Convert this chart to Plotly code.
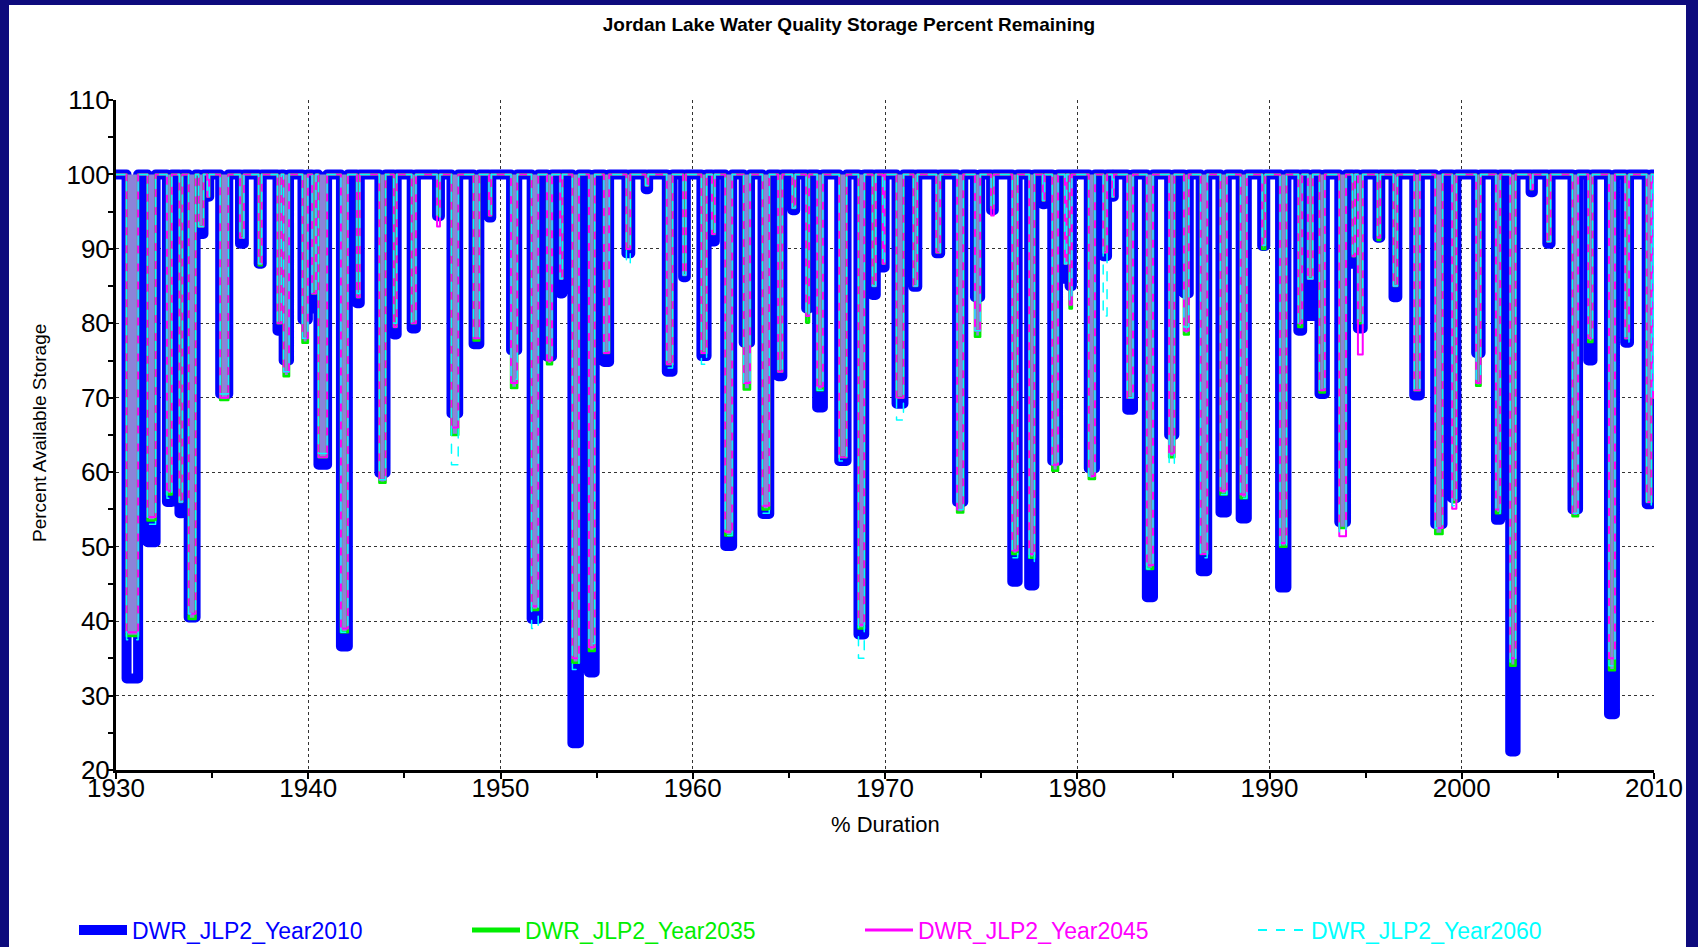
import plotly.graph_objects as go

# ---- data (each drawdown event: start year, end year, minimum % storage per scenario)
dip_start = [1930.55, 1931.64, 1932.65, 1933.30, 1933.78, 1934.30, 1934.75, 1935.42, 1936.45, 1937.42,
             1938.40, 1938.72, 1939.70, 1940.20, 1940.53, 1941.70, 1942.53, 1943.70, 1944.45, 1945.38,
             1946.70, 1947.45, 1948.60, 1949.40, 1950.55, 1951.62, 1952.42, 1953.10, 1953.74, 1954.60,
             1955.38, 1956.55, 1957.55, 1958.65, 1959.50, 1960.45, 1961.00, 1961.69, 1962.65, 1963.63,
             1964.44, 1965.18, 1965.90, 1966.47, 1967.62, 1968.62, 1969.35, 1969.88, 1970.60, 1971.48,
             1972.67, 1973.75, 1974.68, 1975.52, 1976.62, 1977.50, 1978.20, 1978.70, 1979.35, 1979.60,
             1980.60, 1981.35, 1981.82, 1982.60, 1983.62, 1984.78, 1985.55, 1986.42, 1987.45, 1988.50,
             1989.62, 1990.55, 1991.50, 1992.00, 1992.60, 1993.63, 1994.32, 1994.60, 1995.62, 1996.45,
             1997.53, 1998.62, 1999.50, 2000.75, 2001.78, 2002.52, 2003.58, 2004.45, 2005.76, 2006.58,
             2007.66, 2008.50, 2009.62, 2009.96]
dip_end = [1931.15, 1932.06, 1932.90, 1933.45, 1934.14, 1934.55, 1934.85, 1935.84, 1936.65, 1937.58,
           1938.60, 1939.00, 1939.98, 1940.40, 1940.98, 1942.06, 1942.68, 1944.02, 1944.60, 1945.60,
           1946.85, 1947.80, 1948.90, 1949.52, 1950.87, 1951.96, 1952.68, 1953.22, 1954.08, 1954.90,
           1955.65, 1956.75, 1957.68, 1958.95, 1959.64, 1960.72, 1961.15, 1962.05, 1962.98, 1963.98,
           1964.66, 1965.33, 1966.05, 1966.77, 1968.00, 1968.92, 1969.52, 1969.98, 1970.96, 1971.68,
           1972.87, 1974.07, 1974.95, 1975.66, 1976.90, 1977.77, 1978.30, 1979.00, 1979.45, 1979.72,
           1980.92, 1981.55, 1981.90, 1982.90, 1983.94, 1985.05, 1985.80, 1986.76, 1987.78, 1988.82,
           1989.78, 1990.88, 1991.70, 1992.25, 1992.88, 1993.98, 1994.45, 1994.85, 1995.76, 1996.65,
           1997.82, 1999.00, 1999.72, 2000.98, 2002.00, 2002.80, 2003.70, 2004.62, 2006.05, 2006.80,
           2007.97, 2008.70, 2009.86, 2010.00]
min_2010 = [32.3, 50.6, 56.0, 54.5, 40.5, 92.0, 97.0, 70.5, 90.7, 88.0,
            79.0, 75.0, 80.5, 82.0, 61.0, 36.6, 82.7, 59.9, 78.5, 79.3,
            94.4, 67.9, 77.2, 94.2, 76.4, 40.3, 75.5, 84.0, 23.6, 33.1,
            74.8, 89.4, 98.0, 73.5, 86.2, 75.6, 91.0, 50.1, 77.4, 54.4,
            72.9, 95.2, 82.0, 68.7, 61.5, 38.2, 83.8, 87.5, 69.2, 84.9,
            89.4, 56.0, 83.5, 95.2, 45.3, 44.8, 96.0, 61.5, 86.0, 85.0,
            60.5, 89.0, 97.0, 68.4, 43.2, 65.0, 84.0, 46.7, 54.6, 53.8,
            90.4, 44.5, 79.0, 81.0, 70.5, 53.3, 88.0, 79.3, 91.5, 83.5,
            70.3, 53.0, 56.5, 76.0, 53.6, 22.5, 97.6, 90.7, 55.0, 75.0,
            27.5, 77.4, 55.7, 70.0]
min_2035 = [38.0, 53.5, 57.0, 56.0, 40.3, 93.0, 97.0, 69.7, 91.5, 87.8,
            80.0, 72.9, 77.4, 84.0, 62.0, 38.5, 83.5, 58.6, 79.5, 80.0,
            94.5, 65.0, 77.7, 94.5, 71.3, 41.5, 74.5, 86.0, 34.4, 36.0,
            76.0, 90.0, 98.5, 74.5, 86.5, 76.0, 92.0, 51.5, 71.1, 55.0,
            73.5, 95.5, 80.1, 71.0, 62.0, 39.0, 85.0, 88.0, 70.0, 85.0,
            89.5, 54.6, 78.2, 95.5, 49.0, 48.5, 96.5, 60.2, 88.0, 82.0,
            59.1, 89.5, 97.0, 70.0, 47.0, 62.0, 78.5, 49.0, 57.0, 56.5,
            90.0, 50.0, 79.5, 86.0, 70.7, 52.5, 89.0, 80.0, 91.2, 85.0,
            71.0, 51.7, 56.0, 71.6, 54.5, 34.0, 98.0, 91.0, 54.1, 77.5,
            33.4, 78.0, 56.0, 70.0]
min_2045 = [38.5, 54.0, 57.5, 56.0, 41.0, 93.0, 97.0, 70.0, 91.5, 88.0,
            80.0, 73.5, 78.0, 84.0, 62.0, 39.0, 83.5, 59.0, 79.5, 80.0,
            93.0, 66.0, 78.0, 94.5, 72.0, 42.0, 75.0, 86.0, 35.0, 36.5,
            76.0, 90.0, 98.5, 74.5, 86.5, 76.0, 92.0, 52.0, 72.0, 55.5,
            73.5, 95.5, 81.0, 71.5, 62.0, 39.5, 85.0, 88.0, 70.0, 85.0,
            89.5, 55.0, 79.0, 94.5, 49.5, 49.0, 96.5, 61.0, 88.0, 82.5,
            59.5, 89.5, 97.0, 70.0, 47.5, 62.5, 79.0, 49.0, 57.5, 57.0,
            90.5, 50.5, 80.0, 86.0, 71.0, 51.4, 89.0, 75.8, 91.5, 85.0,
            71.0, 52.5, 55.1, 72.0, 55.0, 35.0, 98.0, 91.0, 54.5, 78.0,
            35.0, 78.0, 56.0, 70.0]
min_2060 = [37.5, 53.0, 56.5, 56.0, 41.0, 93.0, 97.0, 70.5, 91.5, 88.0,
            80.0, 73.5, 78.0, 84.0, 62.5, 38.5, 84.0, 59.0, 80.0, 80.0,
            94.0, 61.0, 78.0, 94.5, 72.5, 39.0, 75.5, 86.0, 33.5, 37.0,
            76.0, 88.0, 98.5, 74.0, 86.5, 74.5, 92.0, 51.5, 72.0, 54.5,
            73.5, 95.5, 81.0, 71.0, 61.5, 35.0, 85.0, 88.0, 67.0, 85.0,
            89.5, 55.0, 79.0, 95.5, 48.5, 48.0, 96.5, 61.0, 88.0, 83.0,
            59.5, 81.0, 97.0, 70.0, 47.0, 61.0, 79.5, 48.5, 57.0, 56.5,
            90.5, 50.0, 80.0, 86.0, 71.0, 52.0, 89.0, 80.0, 91.5, 85.0,
            71.0, 52.5, 55.5, 72.5, 54.5, 34.5, 98.0, 91.0, 54.5, 78.0,
            34.0, 77.5, 55.5, 71.0]
FULL = 100.0
START_YEAR, END_YEAR = 1930, 2010

series_names = ["DWR_JLP2_Year2010", "DWR_JLP2_Year2035", "DWR_JLP2_Year2045", "DWR_JLP2_Year2060"]
series_mins = [min_2010, min_2035, min_2045, min_2060]
series_colors = ["#0000ff", "#00ee00", "#ff00ff", "#00ffff"]
series_widths = [10, 2.5, 2, 1.5]          # widths on the plot
legend_widths = [10, 5, 3, 2]              # widths of the legend keys
series_dash = ["solid", "solid", "solid", "dash"]


def build_series(mins):
    xs, ys = [START_YEAR], [FULL]
    for s, e, m in zip(dip_start, dip_end, mins):
        xs += [s, s, e, e]
        ys += [FULL, m, m, FULL]
    return xs, ys


def build_fill(mins):
    xs, ys = [], []
    for s, e, m in zip(dip_start, dip_end, mins):
        xs += [s, s, e, e, None]
        ys += [FULL, m, m, FULL, None]
    return xs, ys


fig = go.Figure()

# blue (2010) line first, widest
bx, by = build_series(min_2010)
fig.add_trace(go.Scatter(x=bx, y=by, mode="lines", showlegend=False,
                         line=dict(color=series_colors[0], width=series_widths[0]), hoverinfo="skip"))
# lavender body of the overlapping daily traces inside each drawdown
fx, fy = build_fill(min_2035)
fig.add_trace(go.Scatter(x=fx, y=fy, mode="lines", fill="toself", fillcolor="rgb(142,130,216)",
                         line=dict(width=0, color="rgba(0,0,0,0)"), showlegend=False, hoverinfo="skip",
                         connectgaps=False))
for mins, col, w, d in list(zip(series_mins, series_colors, series_widths, series_dash))[1:]:
    x, y = build_series(mins)
    fig.add_trace(go.Scatter(x=x, y=y, mode="lines", showlegend=False,
                             line=dict(color=col, width=w, dash=d), hoverinfo="skip"))
# legend keys
for name, col, w, d in zip(series_names, series_colors, legend_widths, series_dash):
    fig.add_trace(go.Scatter(x=[None], y=[None], mode="lines",
                             name=f"<span style='color:{col}'>{name}</span>",
                             line=dict(color=col, width=w, dash=d)))

L, R, T, B = 116, 44, 100, 177
W, H = 1698, 947
pw, ph = W - L - R, H - T - B

fig.update_layout(
    width=W, height=H,
    margin=dict(l=L, r=R, t=T, b=B, autoexpand=False),
    paper_bgcolor="#0e0b7d",
    plot_bgcolor="white",
    font=dict(family="Liberation Sans, Arial, sans-serif", color="black"),
    title=dict(text="<b>Jordan Lake Water Quality Storage Percent Remaining</b>",
               x=0.5, xref="container", xanchor="center",
               y=1 - 24 / H, yref="container", yanchor="middle",
               font=dict(size=19, color="black")),
    showlegend=True,
    legend=dict(orientation="h", x=(74 - L) / pw, xanchor="left",
                y=(H - B - 930) / ph, yanchor="middle",
                font=dict(size=23), itemwidth=48,
                entrywidth=330, entrywidthmode="pixels",
                bgcolor="rgba(0,0,0,0)", traceorder="normal"),
    shapes=[dict(type="rect", xref="paper", yref="paper",
                 x0=(9 - L) / pw, x1=(1686 - L) / pw,
                 y0=(H - B - 990) / ph, y1=(H - B - 5) / ph,
                 fillcolor="white", line=dict(width=0), layer="below")],
    annotations=[
        dict(text="% Duration", xref="paper", yref="paper", x=0.5, y=(H - B - 824) / ph,
             xanchor="center", yanchor="middle", showarrow=False, font=dict(size=22, color="black")),
        dict(text="Percent Available Storage", xref="paper", yref="paper", x=(39 - L) / pw, y=(H - B - 433) / ph,
             xanchor="center", yanchor="middle", textangle=-90, showarrow=False,
             font=dict(size=19, color="black")),
    ],
)

fig.update_xaxes(range=[START_YEAR, END_YEAR], tickmode="linear", tick0=1930, dtick=10,
                 showgrid=True, gridcolor="#333333", griddash="dot", gridwidth=1,
                 showline=True, linecolor="black", linewidth=3,
                 ticks="outside", ticklen=6, tickwidth=2, tickcolor="black", ticklabelstandoff=-13,
                 minor=dict(dtick=5, ticks="outside", ticklen=5, tickwidth=2, tickcolor="black", showgrid=False),
                 tickfont=dict(size=26, color="black"), zeroline=False)
fig.update_yaxes(range=[20, 110], tickmode="linear", tick0=20, dtick=10,
                 showgrid=True, gridcolor="#333333", griddash="dot", gridwidth=1,
                 showline=True, linecolor="black", linewidth=3,
                 ticks="outside", ticklen=6, tickwidth=2, tickcolor="black", ticklabelstandoff=-8,
                 minor=dict(dtick=5, ticks="outside", ticklen=5, tickwidth=2, tickcolor="black", showgrid=False),
                 tickfont=dict(size=26, color="black"), zeroline=False)

post = ("document.body.style.margin='0';document.body.style.overflow='hidden';"
        "var s=document.createElement('style');"
        "s.textContent='.scatterlayer .js-line{stroke-linejoin:round;stroke-linecap:round}';"
        "document.head.appendChild(s);")
fig.write_html("out.html", post_script=post, config={"displayModeBar": False})
